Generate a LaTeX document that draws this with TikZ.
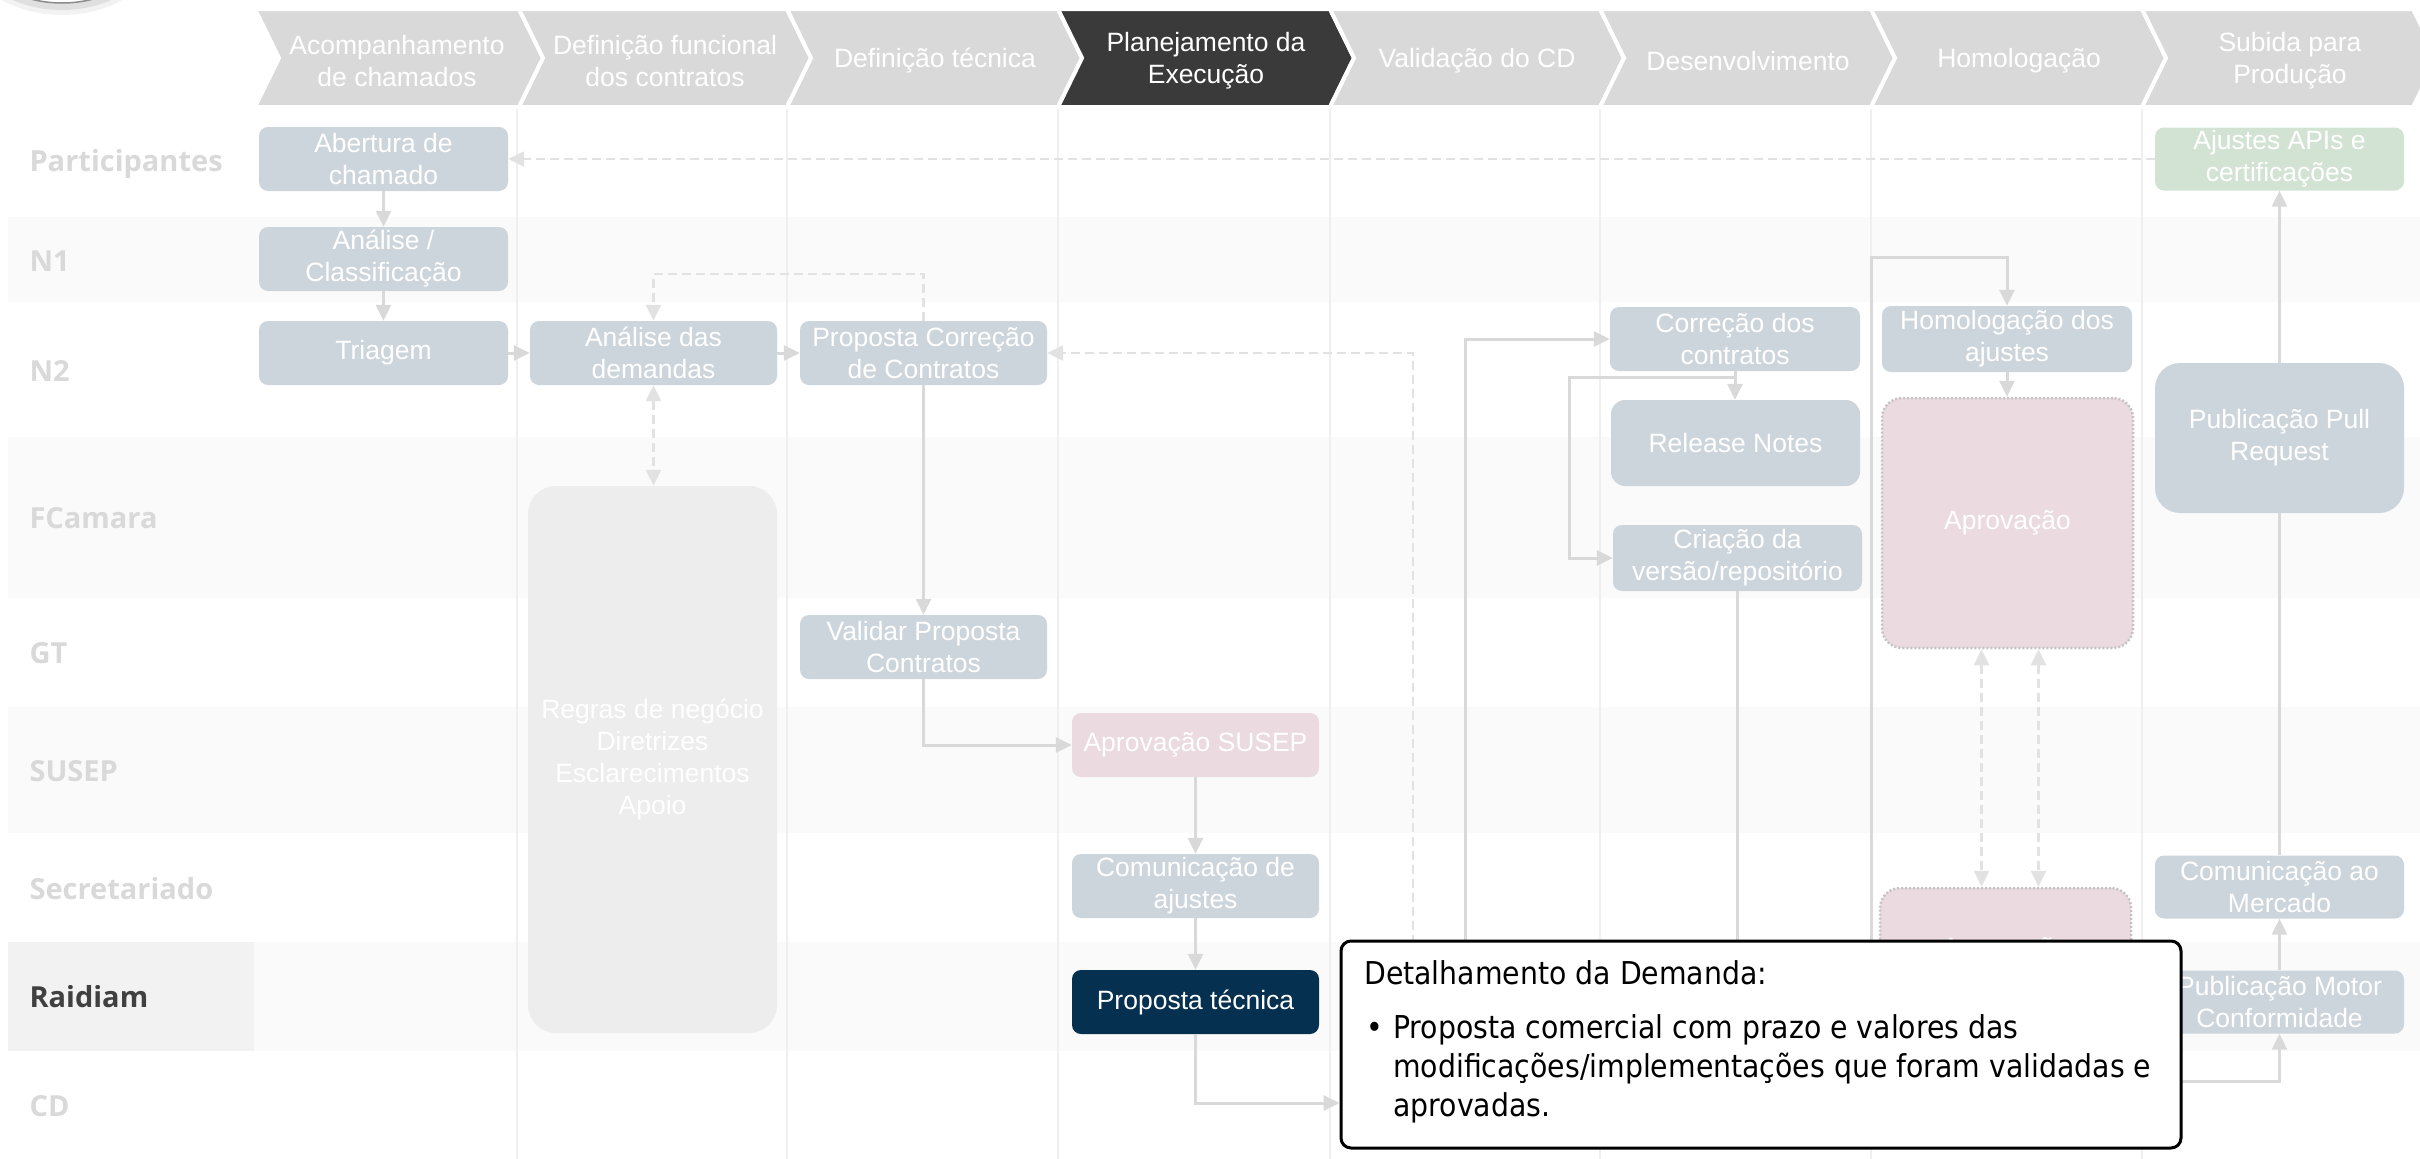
\documentclass[tikz,border=0pt]{standalone}
\usepackage{fontspec}
\setmainfont{Liberation Sans}
\newfontfamily\lanefont{Open Sans}
\newfontfamily\notefont[FakeStretch=0.9]{DejaVu Sans}
\usetikzlibrary{arrows.meta}
\definecolor{nodegray}{HTML}{CDD5DC}
\definecolor{nodepink}{HTML}{EBDADF}
\definecolor{nodegreen}{HTML}{D3E3D3}
\definecolor{navy}{HTML}{05304F}
\definecolor{regrasgray}{HTML}{EDEDED}
\definecolor{connc}{HTML}{D9D9D9}
\definecolor{dashc}{HTML}{E2E2E2}
\definecolor{bandc}{HTML}{FAFAFA}
\definecolor{bandlabel}{HTML}{F2F2F2}
\definecolor{chev}{HTML}{D9D9D9}
\definecolor{chevdark}{HTML}{3A3A3A}
\definecolor{lanetext}{HTML}{D9D9D9}
\definecolor{lanedark}{HTML}{404040}
\definecolor{colline}{HTML}{EFEFEF}
\definecolor{dotc}{HTML}{C4C4C4}
\tikzset{
  hdr/.style={text=white, align=center, font=\fontsize{26.5}{32}\selectfont},
  lanelbl/.style={anchor=west, text=lanetext, font=\lanefont\bfseries\fontsize{29}{34}\selectfont},
  box/.style={rounded corners=9pt, fill=nodegray, text=white, align=center, inner sep=0pt,
    font=\fontsize{26.5}{32}\selectfont, minimum width=249pt, minimum height=64pt},
  pinkbox/.style={box, fill=nodepink},
  dotbox/.style={box, fill=nodepink, draw=dotc, line width=2.5pt, dash pattern=on 2pt off 2pt, rounded corners=20pt},
  arr/.style={draw=connc, line width=3pt, ->},
  ln/.style={draw=connc, line width=3pt},
  dsh/.style={draw=dashc, line width=2.5pt, dash pattern=on 9pt off 5pt},
  notetext/.style={anchor=base west, inner sep=0pt, text=black, font=\notefont\fontsize{31.5}{39}\selectfont},
  >={Triangle[length=16pt,width=15pt]}
}
\begin{document}
\begin{tikzpicture}[x=1pt,y=-1pt]
\useasboundingbox (0,0) rectangle (2420,1159);
\fill[white] (0,0) rectangle (2420,1159);
% logo (cut at top)
\fill[black, opacity=0.05] (62,-115) circle (130);
\fill[black, opacity=0.08] (62,-117) circle (127);
\filldraw[fill=white, draw=black!45, line width=1.5pt] (62,-120) circle (123);
% bands
\fill[bandc] (8,217) rectangle (2420,302);
\fill[bandc] (8,437) rectangle (2420,598);
\fill[bandc] (8,707) rectangle (2420,833);
\fill[bandc] (8,942) rectangle (2420,1051);
\fill[bandlabel] (8,942) rectangle (254,1051);
% column lines
\foreach \x in {517,787,1058,1330,1600,1871,2142}
  \draw[colline, line width=1.5pt] (\x,107) -- (\x,1159);
% header chevrons
\foreach \a/\b/\c in {255/519/chev,519/787/chev,787/1058/chev,1058/1330/chevdark,1330/1600/chev,1600/1871/chev,1871/2142/chev,2142/2413/chev}
  \filldraw[fill=\c, draw=white, line width=4pt, line join=miter]
    (\a,9) -- (\b,9) -- ({\b+24},58) -- (\b,107) -- (\a,107) -- ({\a+24},58) -- cycle;
\node[hdr] (h1) at (397,61) {Acompanhamento\\de chamados};
\node[hdr] (h2) at (665,61) {Definição funcional\\dos contratos};
\node[hdr] (h3) at (935,61) {Definição técnica};
\node[hdr] (h4) at (1206,61) {Planejamento da\\Execução};
\node[hdr] (h5) at (1477,61) {Validação do CD};
\node[hdr] (h6) at (1748,61) {Desenvolvimento};
\node[hdr] (h7) at (2019,61) {Homologação};
\node[hdr] (h8) at (2290,61) {Subida para\\Produção};
% lane labels
\node[lanelbl] (l1) at (26,164) {Participantes};
\node[lanelbl] (l2) at (26,261) {N1};
\node[lanelbl] (l3) at (26,371) {N2};
\node[lanelbl] (l4) at (26,518) {FCamara};
\node[lanelbl] (l5) at (26,653) {GT};
\node[lanelbl] (l6) at (26,771) {SUSEP};
\node[lanelbl] (l7) at (26,889) {Secretariado};
\node[lanelbl, text=lanedark] (l8) at (26,997) {Raidiam};
\node[lanelbl] (l9) at (26,1106) {CD};
% nodes
\node[box] (abertura) at (383.5,159) {Abertura de\\chamado};
\node[box] (analise) at (383.5,259) {Análise /\\Classificação};
\node[box] (triagem) at (383.5,353) {Triagem};
\node[box, minimum width=247pt] (demandas) at (653.5,353) {Análise das\\demandas};
\node[box, minimum width=247pt] (proposta) at (923.5,353) {Proposta Correção\\de Contratos};
\node[box, fill=regrasgray, rounded corners=28pt, minimum height=547pt] (regras) at (652.5,759.5)
  {Regras de negócio\\Diretrizes\\Esclarecimentos\\Apoio};
\node[box, minimum width=247pt] (validar) at (923.5,647) {Validar Proposta\\Contratos};
\node[pinkbox, minimum width=247pt] (susep) at (1195.5,745) {Aprovação SUSEP};
\node[box, minimum width=247pt] (comajustes) at (1195.5,886) {Comunicação de\\ajustes};
\node[box, fill=navy, minimum width=247pt] (ptecnica) at (1195.5,1002) {Proposta técnica};
\node[box, minimum width=250pt] (correcao) at (1735,339) {Correção dos\\contratos};
\node[box, minimum height=86pt, rounded corners=14pt] (release) at (1735.5,443) {Release Notes};
\node[box, minimum height=66pt] (criacao) at (1737.5,558) {Criação da\\versão/repositório};
\node[box, minimum width=250pt, minimum height=66pt] (homolog) at (2007,339) {Homologação dos\\ajustes};
\node[dotbox, minimum width=251pt, minimum height=250pt] (aprov1) at (2007.5,523) {Aprovação};
\node[dotbox, minimum width=251pt, minimum height=124pt] (aprov2) at (2005.5,950) {Aprovação};
\node[box, fill=nodegreen, minimum height=63pt] (ajustes) at (2279.5,159) {Ajustes APIs e\\certificações};
\node[box, minimum height=150pt, rounded corners=25pt] (pull) at (2279.5,438) {Publicação Pull\\Request};
\node[box, minimum height=63pt] (mercado) at (2279.5,887) {Comunicação ao\\Mercado};
\node[box, minimum height=63pt] (motor) at (2279.5,1002) {Publicação Motor\\Conformidade};
% hidden starts (under the detail box)
\coordinate (hid1) at (1413,1000);
\coordinate (hid2) at (1465,1000);
\coordinate (hid4) at (1871,1000);
\coordinate (hid5) at (2150,1081);
\coordinate (cdrow) at (0,1103);
% connectors
\draw[arr] (abertura.south) -- (analise.north);
\draw[arr] (analise.south) -- (triagem.north);
\draw[arr] (triagem.east) -- (demandas.west);
\draw[arr] (demandas.east) -- (proposta.west);
\draw[dsh, ->] (proposta.north) -- ++(0,-47) -| (demandas.north);
\draw[dsh, <->] (demandas.south) -- (demandas.south |- regras.north);
\draw[arr] (proposta.south) -- (validar.north);
\draw[arr] (validar.south) |- (susep.west);
\draw[arr] (susep.south) -- (comajustes.north);
\draw[arr] (comajustes.south) -- (ptecnica.north);
\draw[dsh, ->] (ajustes.west) -- (abertura.east);
\draw[dsh, ->] (hid1) |- (proposta.east);
\draw[arr] (hid2) |- (correcao.west);
\draw[arr] (correcao.south) -- (correcao.south |- release.north);
\draw[arr] ([yshift=-6pt]correcao.south) -- ++(-166,0) |- (criacao.west);
\draw[ln] (criacao.south) -- ++(0,410);
\draw[arr] (hid4) -- ++(0,-743) -| (homolog.north);
\draw[arr] (homolog.south) -- (homolog.south |- aprov1.north);
\draw[dsh, <->] ([xshift=-26pt]aprov1.south) -- ([xshift=-26pt]aprov1.south |- aprov2.north);
\draw[dsh, <->] ([xshift=31pt]aprov1.south) -- ([xshift=31pt]aprov1.south |- aprov2.north);
\draw[arr] (pull.north) -- (ajustes.south);
\draw[ln] (pull.south) -- (mercado.north);
\draw[arr] (motor.north) -- (mercado.south);
\draw[arr] (hid5) -| (motor.south);
% detail box
\node[draw=black, fill=white, line width=3pt, rounded corners=10pt, minimum width=840pt, minimum height=207pt] (detail) at (1761,1044.5) {};
\draw[arr] (ptecnica.south) |- (detail.west |- cdrow);
\node[notetext] (dtitle) at (1364,984) {Detalhamento da Demanda:};
\node[notetext] (dbullet) at (1366,1038) {•};
\node[notetext] (dline1) at (1393,1038) {Proposta comercial com prazo e valores das};
\node[notetext] (dline2) at (1393,1077) {modificações/implementações que foram validadas e};
\node[notetext] (dline3) at (1393,1116) {aprovadas.};
\end{tikzpicture}
\end{document}
